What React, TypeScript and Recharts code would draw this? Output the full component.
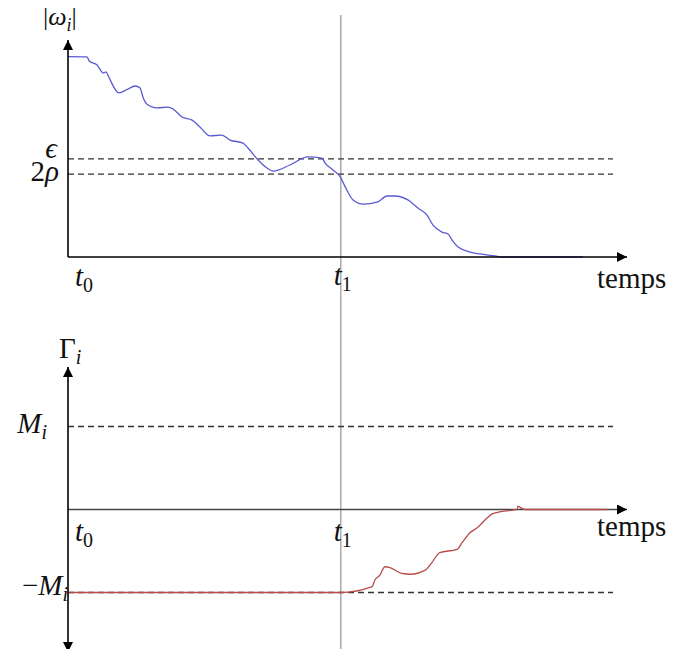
import { LineChart, Line, XAxis, YAxis, ReferenceLine, ReferenceDot } from "recharts"

// time axis runs 0..100, t1 is the switching instant
const T1 = 48.8
const T_END = 97.5

// |omega_i| samples (top panel, y in 0..100)
const omegaT = [0, 3.4, 3.8, 5.2, 6.3, 6.8, 7.2, 9.1, 10.7, 12.0, 12.9, 13.4, 14.1, 15.9, 17.9, 18.8, 20.4, 22.2, 23.6, 25.4, 27.5, 29.0, 31.3, 32.2, 34.0, 35.6, 36.7, 39.7, 42.9, 45.4, 46.0, 47.4, 48.7, 49.6, 51.0, 52.8, 55.3, 57.1, 58.5, 60.8, 62.6, 64.2, 65.3, 66.9, 68.0, 68.7, 69.8, 71.9, 73.7, 76.4, 77.6, 82.6, 92.1]
const omegaV = [92.3, 92.2, 90.3, 88.5, 84.8, 85.3, 83.4, 75.6, 77.4, 78.8, 77.9, 73.7, 70.5, 68.7, 69.1, 68.2, 64.5, 63.1, 59.9, 55.8, 56.2, 53.9, 52.5, 50.2, 44.7, 41.0, 39.6, 42.4, 46.1, 45.6, 43.3, 40.1, 36.9, 32.3, 26.3, 24.4, 25.3, 28.1, 28.1, 26.3, 22.6, 19.4, 14.7, 11.5, 10.6, 7.8, 4.6, 2.3, 1.4, 0.5, 0, 0, 0]
const EPS = 45.2
const RHO2 = 38.2

// Gamma_i samples (bottom panel, in units of M_i)
const gammaT = [0, 48.8, 54.4, 54.9, 55.8, 56.7, 57.6, 59.7, 61.2, 63.9, 65.1, 66.5, 69.6, 70.5, 71.9, 73.2, 75.0, 76.0, 79.1, 80.3, 80.5, 81.0, 81.8, 88.6, 96.4]
const gammaV = [-1, -1, -0.93, -0.85, -0.79, -0.69, -0.7, -0.77, -0.78, -0.73, -0.64, -0.52, -0.48, -0.4, -0.28, -0.22, -0.1, -0.05, -0.01, 0, 0.04, 0.02, 0, 0, 0]
const M = 1
const G_MAX = 1.717

const omegaData = omegaT.map((t, i) => ({ t, v: omegaV[i] }))
const gammaData = gammaT.map((t, i) => ({ t, v: gammaV[i] }))

const FONT = "'Liberation Serif', 'DejaVu Serif', serif"
const FS = 29

type Part = { s: string; it?: boolean; sub?: boolean }

const Tex = ({ parts, size }: { parts: Part[]; size: number }) => (
  <>
    {parts.map((p, i) => {
      const prev = parts[i - 1]
      let dy = 0
      if (p.sub && !(prev && prev.sub)) dy = 6
      if (!p.sub && prev && prev.sub) dy = -6
      return (
        <tspan key={i} fontStyle={p.it ? "italic" : "normal"} fontSize={p.sub ? Math.round(size * 0.69) : size} dy={dy}>
          {p.s}
        </tspan>
      )
    })}
  </>
)

const texLabel = (parts: Part[], dx: number, dy: number, anchor: "start" | "middle" | "end" = "start", size = FS) =>
  (p: any) => (
    <text x={p.cx + dx} y={p.cy + dy} textAnchor={anchor} fontFamily={FONT} fontSize={size} fill="#111">
      <Tex parts={parts} size={size} />
    </text>
  )

const omegaLabel: Part[] = [{ s: "|" }, { s: "ω", it: true }, { s: "i", it: true, sub: true }, { s: "|" }]
const gammaLabel: Part[] = [{ s: "Γ" }, { s: "i", it: true, sub: true }]
const epsLabel: Part[] = [{ s: "ϵ", it: true }]
const rhoLabel: Part[] = [{ s: "2" }, { s: "ρ", it: true }]
const mLabel: Part[] = [{ s: "M", it: true }, { s: "i", it: true, sub: true }]
const negMLabel: Part[] = [{ s: "−" }, { s: "M", it: true }, { s: "i", it: true, sub: true }]
const t0Label: Part[] = [{ s: "t", it: true }, { s: "0", sub: true }]
const t1Label: Part[] = [{ s: "t", it: true }, { s: "1", sub: true }]
const timeLabel: Part[] = [{ s: "temps" }]

const AXIS = { stroke: "#000", strokeWidth: 1.6 }
const DASH = { stroke: "#333", strokeWidth: 1.3, strokeDasharray: "6 4" }
const VLINE = { stroke: "#aaa", strokeWidth: 1.5 }

export default function App() {
  return (
    <div style={{ margin: -8, width: 674, position: "relative" }}>
      <svg width={0} height={0} style={{ position: "absolute" }}>
        <defs>
          <marker id="arr" viewBox="0 0 10 10" refX="10" refY="5" markerWidth="11" markerHeight="10"
            markerUnits="userSpaceOnUse" orient="auto-start-reverse">
            <path d="M0,0 L10,5 L0,10 z" fill="#000" />
          </marker>
        </defs>
      </svg>

      <LineChart width={674} height={320} data={omegaData} margin={{ top: 40, right: 47, left: 0, bottom: 0 }}>
        <XAxis type="number" dataKey="t" domain={[0, 100]} height={63} tick={false} tickLine={false}
          axisLine={{ ...AXIS, markerEnd: "url(#arr)" }} />
        <YAxis type="number" domain={[0, 100]} width={68} tick={false} tickLine={false}
          axisLine={{ ...AXIS, markerStart: "url(#arr)" }} />
        <ReferenceLine segment={[{ x: T1, y: 111.5 }, { x: T1, y: -29.1 }]} ifOverflow="visible" {...VLINE} />
        <ReferenceLine segment={[{ x: 0, y: EPS }, { x: T_END, y: EPS }]} ifOverflow="visible" {...DASH} />
        <ReferenceLine segment={[{ x: 0, y: RHO2 }, { x: T_END, y: RHO2 }]} ifOverflow="visible" {...DASH} />
        <Line type="monotone" dataKey="v" stroke="#5a5ad2" strokeWidth={1.3} dot={false} isAnimationActive={false} />
        <ReferenceDot x={0} y={100} r={0} ifOverflow="visible" shape={texLabel(omegaLabel, -25, -15, "start", 26)} />
        <ReferenceDot x={0} y={EPS} r={0} ifOverflow="visible" shape={texLabel(epsLabel, -11, -1, "end")} />
        <ReferenceDot x={0} y={RHO2} r={0} ifOverflow="visible" shape={texLabel(rhoLabel, -9, 7, "end")} />
        <ReferenceDot x={0} y={0} r={0} ifOverflow="visible" shape={texLabel(t0Label, 7, 29)} />
        <ReferenceDot x={T1} y={0} r={0} ifOverflow="visible" shape={texLabel(t1Label, -7, 28)} />
        <ReferenceDot x={100} y={0} r={0} ifOverflow="visible" shape={texLabel(timeLabel, -30, 31)} />
      </LineChart>

      <LineChart width={674} height={337} data={gammaData} margin={{ top: 47, right: 47, left: 0, bottom: 5 }}>
        <XAxis type="number" dataKey="t" domain={[0, 100]} height={0} hide />
        <YAxis type="number" domain={[-G_MAX, G_MAX]} width={68} tick={false} tickLine={false}
          axisLine={{ ...AXIS, markerStart: "url(#arr)", markerEnd: "url(#arr)" }} />
        <ReferenceLine segment={[{ x: T1, y: 2.283 }, { x: T1, y: -1.753 }]} ifOverflow="visible" {...VLINE} />
        <ReferenceLine segment={[{ x: 0, y: 0 }, { x: 100, y: 0 }]} ifOverflow="visible"
          stroke="#444" strokeWidth={1.6} markerEnd="url(#arr)" />
        <ReferenceLine segment={[{ x: 0, y: M }, { x: T_END, y: M }]} ifOverflow="visible" {...DASH} />
        <ReferenceLine segment={[{ x: 0, y: -M }, { x: T_END, y: -M }]} ifOverflow="visible" {...DASH} />
        <Line type="monotone" dataKey="v" stroke="#b84a4a" strokeWidth={1.3} dot={false} isAnimationActive={false} />
        <ReferenceDot x={0} y={G_MAX} r={0} ifOverflow="visible" shape={texLabel(gammaLabel, -9, -9)} />
        <ReferenceDot x={0} y={M} r={0} ifOverflow="visible" shape={texLabel(mLabel, -21, 6, "end")} />
        <ReferenceDot x={0} y={-M} r={0} ifOverflow="visible" shape={texLabel(negMLabel, 0, 3, "end")} />
        <ReferenceDot x={0} y={0} r={0} ifOverflow="visible" shape={texLabel(t0Label, 7, 31)} />
        <ReferenceDot x={T1} y={0} r={0} ifOverflow="visible" shape={texLabel(t1Label, -7, 31)} />
        <ReferenceDot x={100} y={0} r={0} ifOverflow="visible" shape={texLabel(timeLabel, -30, 26)} />
      </LineChart>
    </div>
  )
}
